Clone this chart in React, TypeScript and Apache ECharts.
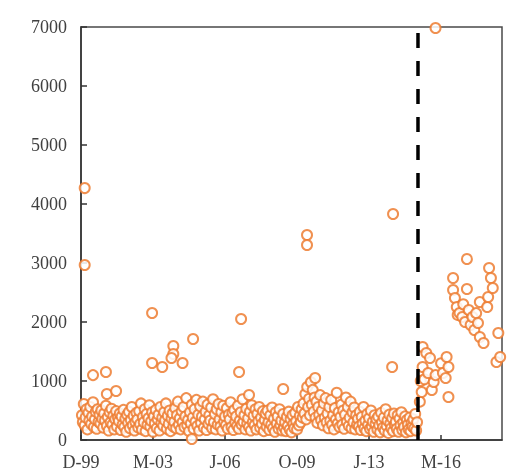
import React, { useEffect, useRef } from "react";
import * as echarts from "echarts";

// x axis: months since Dec 1999
const tickMonths = [0, 39, 78, 117, 156, 195];
const tickLabels = ["D-99", "M-03", "J-06", "O-09", "J-13", "M-16"];
const xMax = 228;
const breakMonth = 182.5;

// dense baseline series, one reading every half month starting at month 0.5
const baselineStart = 0.5;
const baselineStep = 0.5;
const baselineValues = [
  420, 300, 610, 250, 380, 520, 180, 460, 330, 560, 270, 400, 640, 220, 350, 480, 190, 520, 310, 430,
  280, 500, 360, 210, 450, 330, 580, 240, 390, 160, 470, 300, 530, 260, 410, 180, 350, 490, 230, 380,
  320, 450, 170, 400, 260, 510, 220, 360, 140, 430, 290, 480, 200, 340, 560, 250, 410, 160, 300, 460,
  350, 210, 490, 270, 620, 180, 390, 300, 520, 150, 440, 260, 370, 590, 230, 320, 470, 140, 400, 280,
  510, 200, 350, 430, 160, 560, 290, 380, 240, 470, 330, 620, 190, 410, 270, 500, 150, 360, 450, 230,
  310, 540, 200, 420, 650, 260, 370, 180, 490, 300, 560, 220, 400, 710, 250, 340, 150, 470, 280, 600,
  380, 190, 520, 310, 680, 240, 430, 160, 570, 290, 400, 650, 210, 350, 480, 170, 600, 270, 420, 330,
  550, 200, 690, 300, 440, 180, 520, 260, 610, 350, 230, 470, 160, 580, 310, 400, 250, 540, 190, 430,
  350, 640, 220, 460, 170, 510, 300, 400, 240, 580, 190, 330, 470, 260, 690, 310, 420, 180, 530, 280,
  370, 220, 480, 160, 590, 300, 410, 250, 520, 180, 440, 320, 560, 210, 380, 270, 490, 150, 340, 450,
  230, 500, 300, 170, 420, 260, 550, 200, 360, 140, 470, 280, 400, 190, 520, 250, 330, 160, 440, 210,
  300, 150, 390, 240, 480, 180, 350, 130, 420, 270, 200, 460, 320, 180, 560, 250, 410, 300, 520, 380,
  620, 450, 780, 350, 900, 560, 700, 420, 980, 600, 850, 480, 720, 380, 650, 290, 560, 430, 760, 340,
  500, 250, 620, 380, 710, 300, 450, 200, 560, 330, 680, 260, 420, 180, 540, 350, 800, 280, 470, 220,
  390, 600, 260, 500, 190, 430, 720, 310, 560, 240, 380, 650, 200, 470, 300, 550, 180, 420, 260, 360,
  230, 480, 170, 390, 280, 560, 200, 330, 150, 440, 260, 370, 190, 500, 230, 310, 140, 420, 270, 350,
  180, 400, 250, 130, 460, 300, 210, 380, 160, 520, 240, 330, 120, 430, 280, 200, 370, 150, 450, 260,
  310, 190, 420, 140, 360, 250, 470, 170, 300, 220, 400, 130, 340, 260, 180, 380, 150, 290, 230, 350,
  200, 440, 160, 300,
];

// isolated high readings before the break
const outlierMonths = [2, 2, 6.5, 13.5, 14, 19, 38.5, 38.5, 44, 50, 50, 49, 55, 60.7, 60, 85.6, 86.7, 91, 109.5, 122.4, 122.4, 126.8, 168.5, 169];
const outlierValues = [4270, 2966, 1100, 1153, 780, 830, 2152, 1305, 1237, 1593, 1458, 1390, 1305, 1712, 17, 1153, 2050, 763, 864, 3475, 3305, 1051, 1237, 3830];

// readings after the break
const postMonths = [
  183.5, 184, 184.5, 185, 185, 186, 187, 188, 189, 190, 191, 192, 192, 195, 196, 197.5, 198, 199, 199,
  201.5, 201.5, 202.5, 203.5, 204, 205, 206.5, 207, 208, 209, 209, 210, 211, 212, 213, 214, 215, 216, 216,
  218, 220, 220.5, 221, 222, 223, 225, 226, 227,
];
const postValues = [
  650, 1000, 814, 1576, 1237, 1030, 1475, 1136, 1390, 847, 983, 1100, 6983, 1300, 1136, 1051, 1407, 1237, 729,
  2746, 2543, 2407, 2254, 2120, 2153, 2085, 2300, 2000, 3068, 2560, 2204, 1950, 2085, 1865, 2150, 1983, 2339, 1746,
  1644, 2254, 2424, 2915, 2746, 2577, 1322, 1814, 1407,
];

const orange = "#ED7D31";
const font = "Liberation Serif";

export default function App() {
  const ref = useRef<HTMLDivElement>(null);
  useEffect(() => {
    if (!ref.current) return;
    const chart = echarts.init(ref.current, null, { renderer: "svg" });
    const points: [number, number][] = [];
    baselineValues.forEach((v, i) => points.push([baselineStart + i * baselineStep, v]));
    outlierMonths.forEach((m, i) => points.push([m, outlierValues[i]]));
    postMonths.forEach((m, i) => points.push([m, postValues[i]]));

    chart.setOption({
      animation: false,
      grid: {
        left: 81,
        right: 11,
        top: 27,
        bottom: 35,
        show: true,
        borderColor: "#4a4a4a",
        borderWidth: 1.5,
      },
      xAxis: {
        type: "value",
        min: 0,
        max: xMax,
        interval: 39,
        axisLine: { show: true, onZero: false, lineStyle: { color: "#333", width: 1.5 } },
        axisTick: { show: true, inside: true, length: 5, lineStyle: { color: "#333", width: 1.5 } },
        splitLine: { show: false },
        axisLabel: {
          margin: 13,
          fontFamily: font,
          fontSize: 18,
          color: "#404040",
          showMaxLabel: false,
          formatter: (v: number) => {
            const i = tickMonths.indexOf(Math.round(v));
            return i >= 0 && Math.abs(v - tickMonths[i]) < 0.01 ? tickLabels[i] : "";
          },
        },
      },
      yAxis: {
        type: "value",
        min: 0,
        max: 7000,
        interval: 1000,
        axisLine: { show: true, lineStyle: { color: "#333", width: 1.5 } },
        axisTick: { show: true, inside: true, length: 6, lineStyle: { color: "#333", width: 1.5 } },
        splitLine: { show: false },
        axisLabel: {
          margin: 14,
          fontFamily: font,
          fontSize: 18,
          color: "#404040",
          formatter: (v: number) => String(v),
        },
      },
      series: [
        {
          type: "scatter",
          data: points,
          symbol: "emptyCircle",
          symbolSize: 10,
          itemStyle: { color: orange, borderColor: orange, borderWidth: 1.4, opacity: 0.85 },
          z: 2,
        },
        {
          type: "line",
          data: [
            [breakMonth, 0],
            [breakMonth, 7000],
          ],
          symbol: "none",
          lineStyle: { color: "#000", width: 3.5, type: [15, 13] },
          z: 3,
        },
      ],
    });
    return () => chart.dispose();
  }, []);
  return (
    <div
      ref={ref}
      style={{ position: "fixed", left: 0, top: 0, width: 513, height: 475 }}
    />
  );
}
